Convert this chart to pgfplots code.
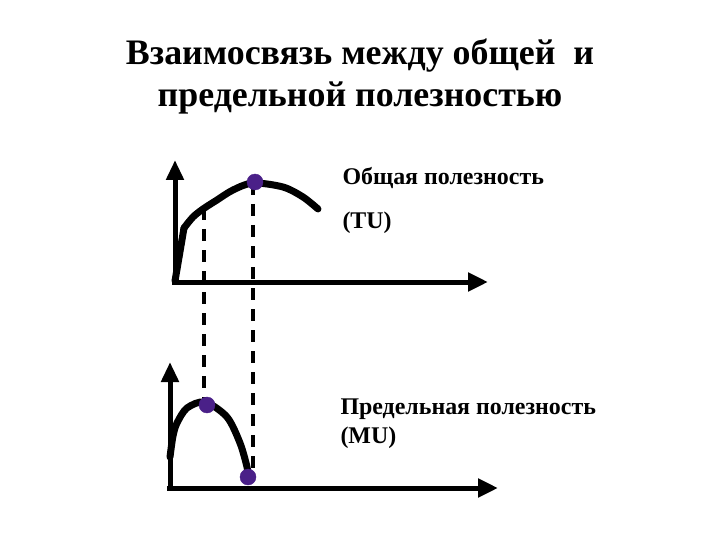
\documentclass[border=0pt]{standalone}
\usepackage{pgfplots}
\pgfplotsset{compat=1.18}
\usepackage{fontspec}
\setmainfont{Liberation Serif}
\usetikzlibrary{arrows.meta}
\definecolor{dotpurple}{RGB}{74,32,136}
\begin{document}
\begin{tikzpicture}
\begin{axis}[
  width=720bp, height=540bp, scale only axis,
  xmin=0, xmax=720, ymin=0, ymax=540, y dir=reverse,
  axis lines=none, ticks=none, clip=false,
]
\path (axis cs:0,0) rectangle (axis cs:720,540);
% axes (top)
\addplot[black, line width=5bp, -{Triangle[length=20bp,width=17bp]}] coordinates {(175,284) (175,160)};
\addplot[black, line width=5bp, -{Triangle[length=20bp,width=18bp]}] coordinates {(172,282) (488,282)};
% axes (bottom)
\addplot[black, line width=5bp, -{Triangle[length=20bp,width=17bp]}] coordinates {(170,490) (170,362)};
\addplot[black, line width=5bp, -{Triangle[length=20bp,width=18bp]}] coordinates {(167,488) (498,488)};
% dashed guides
\addplot[black, line width=3.2bp, dash pattern=on 12bp off 9bp] coordinates {(204,208) (204,404)};
\addplot[black, line width=3.2bp, dash pattern=on 12bp off 9bp] coordinates {(253,183) (253,478)};
% TU curve
\addplot[black, line width=7bp, line cap=round] coordinates {(175,281) (184,228)};
\addplot[black, line width=7bp, smooth, line cap=round] coordinates {(184,228) (193,217) (203,209) (217,200) (233,190) (253,183) (283,187) (303,197) (318,209)};
% MU curve
\addplot[black, line width=7bp, smooth, line cap=round] coordinates {(170,457) (173,436) (177,423) (187,408) (205,402) (227,417) (240,443) (247,467) (248,477)};
% points
\addplot[only marks, mark=*, mark size=8bp, color=dotpurple] coordinates {(255,182) (207,405) (248,477)};
% texts
\node[font=\bfseries\fontsize{36}{40}\selectfont, anchor=base] at (axis cs:360,65) {Взаимосвязь между общей\ \ и};
\node[font=\bfseries\fontsize{36}{40}\selectfont, anchor=base] at (axis cs:360,107) {предельной полезностью};
\node[font=\bfseries\fontsize{24}{28}\selectfont, anchor=base west] at (axis cs:339,185) {Общая полезность};
\node[font=\bfseries\fontsize{24}{28}\selectfont, anchor=base west] at (axis cs:339,229) {(TU)};
\node[font=\bfseries\fontsize{24}{28}\selectfont, anchor=base west] at (axis cs:337,414) {Предельная полезность};
\node[font=\bfseries\fontsize{24}{28}\selectfont, anchor=base west] at (axis cs:337,443) {(MU)};
\end{axis}
\end{tikzpicture}
\end{document}
